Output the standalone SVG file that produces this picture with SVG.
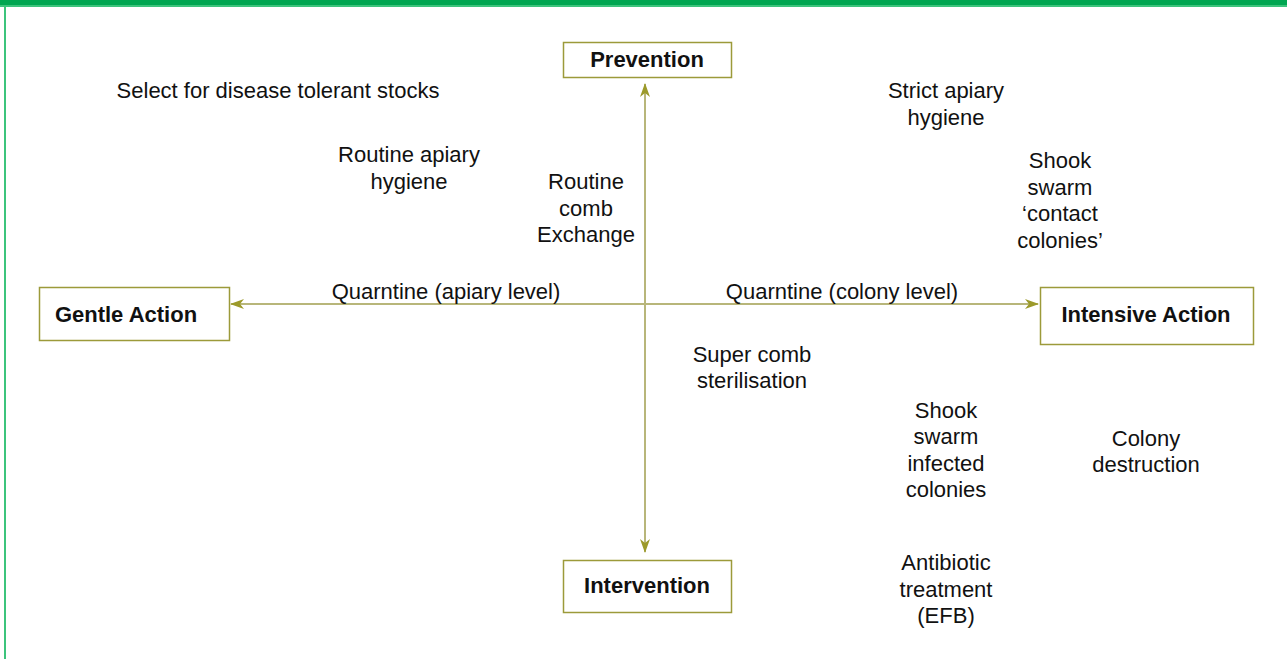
<svg xmlns="http://www.w3.org/2000/svg" width="1287" height="659" viewBox="0 0 1287 659">
<style>
.box{fill:#fff;stroke:#9c9a3a;stroke-width:1.5}
.t{font-family:"Liberation Sans",Arial,sans-serif;font-size:22px;fill:#111;text-anchor:middle}
.b{font-family:"Liberation Sans",Arial,sans-serif;font-size:22px;font-weight:bold;fill:#111;text-anchor:middle}
.ax{stroke:#b8b67a;stroke-width:2;fill:none}
</style>
<defs>
<marker id="ah" viewBox="0 0 14 10" refX="13" refY="5" markerWidth="14" markerHeight="10" markerUnits="userSpaceOnUse" orient="auto-start-reverse">
<path d="M0,0 L14,5 L0,10 L4,5 Z" fill="#9c9a2a"/>
</marker>
</defs>
<rect x="0" y="0" width="1287" height="659" fill="#fff"/>
<rect x="0" y="0" width="1287" height="5" fill="#00a651"/>
<rect x="0" y="5" width="1287" height="2" fill="#3cc47c"/>
<rect x="4" y="5" width="2" height="654" fill="#3cc47c"/>
<g id="connectors">
<line class="ax" x1="645" y1="552" x2="645" y2="84" marker-start="url(#ah)" marker-end="url(#ah)"/>
<line class="ax" x1="231" y1="304" x2="1038" y2="304" marker-start="url(#ah)" marker-end="url(#ah)"/>
</g>
<g id="prevention"><rect class="box" x="563.5" y="42.5" width="168" height="35"/><text class="b" x="647" y="67">Prevention</text></g>
<g id="gentle"><rect class="box" x="39.5" y="287.5" width="190" height="53"/><text class="b" x="126" y="322">Gentle Action</text></g>
<g id="intensive"><rect class="box" x="1040.5" y="287.5" width="213" height="57"/><text class="b" x="1146" y="322">Intensive Action</text></g>
<g id="intervention"><rect class="box" x="563.5" y="560.5" width="168" height="52"/><text class="b" x="647" y="593">Intervention</text></g>
<g id="labels">
<text class="t" x="278" y="98">Select for disease tolerant stocks</text>
<text class="t" x="409" y="162">Routine apiary</text>
<text class="t" x="409" y="189">hygiene</text>
<text class="t" x="586" y="189">Routine</text>
<text class="t" x="586" y="216">comb</text>
<text class="t" x="586" y="242">Exchange</text>
<text class="t" x="946" y="98">Strict apiary</text>
<text class="t" x="946" y="125">hygiene</text>
<text class="t" x="1060" y="168">Shook</text>
<text class="t" x="1060" y="195">swarm</text>
<text class="t" x="1060" y="221">‘contact</text>
<text class="t" x="1060" y="248">colonies’</text>
<text class="t" x="446" y="299">Quarntine (apiary level)</text>
<text class="t" x="842" y="299">Quarntine (colony level)</text>
<text class="t" x="752" y="362">Super comb</text>
<text class="t" x="752" y="388">sterilisation</text>
<text class="t" x="946" y="418">Shook</text>
<text class="t" x="946" y="444">swarm</text>
<text class="t" x="946" y="471">infected</text>
<text class="t" x="946" y="497">colonies</text>
<text class="t" x="1146" y="446">Colony</text>
<text class="t" x="1146" y="472">destruction</text>
<text class="t" x="946" y="570">Antibiotic</text>
<text class="t" x="946" y="597">treatment</text>
<text class="t" x="946" y="623">(EFB)</text>
</g>
</svg>
